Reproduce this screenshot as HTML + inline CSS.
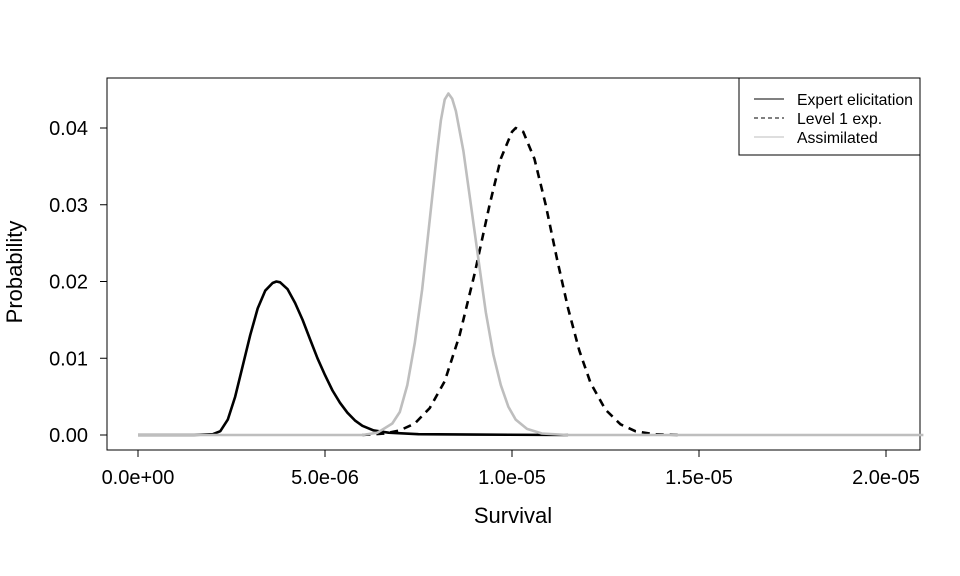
<!DOCTYPE html>
<html><head><meta charset="utf-8"><style>
body{margin:0;background:#fff}
svg{display:block;font-family:"Liberation Sans",Arial,sans-serif}
</style></head><body>
<svg id="chart" width="960" height="576" viewBox="0 0 960 576">
<rect x="107" y="78" width="813" height="372" fill="none" stroke="#000" stroke-width="1"/>
<g id="axes"></g>
<g id="series"></g>
<text x="513" y="523" font-size="22" text-anchor="middle">Survival</text>
<text transform="translate(22,272) rotate(-90)" font-size="22" text-anchor="middle">Probability</text>
<g>
<rect x="739" y="78" width="181" height="77" fill="#fff" stroke="#000" stroke-width="1"/>
<line x1="754" y1="99" x2="784" y2="99" stroke="#000" stroke-width="1"/>
<text x="797" y="105" font-size="15.8">Expert elicitation</text>
<line x1="754" y1="118" x2="784" y2="118" stroke="#000" stroke-width="1" stroke-dasharray="4,3"/>
<text x="797" y="124" font-size="15.8">Level 1 exp.</text>
<line x1="754" y1="137" x2="784" y2="137" stroke="#bebebe" stroke-width="1"/>
<text x="797" y="143" font-size="15.8">Assimilated</text>
</g>
</svg>
<script>
const xTicks=[0,5e-6,1e-5,1.5e-5,2e-5];
const xTickLabels=["0.0e+00","5.0e-06","1.0e-05","1.5e-05","2.0e-05"];
const yTicks=[0,0.01,0.02,0.03,0.04];
const yTickLabels=["0.00","0.01","0.02","0.03","0.04"];
const expertX=[0,1.5,2.0,2.2,2.4,2.6,2.8,3.0,3.2,3.4,3.6,3.7,3.8,4.0,4.2,4.4,4.6,4.8,5.0,5.2,5.4,5.6,5.8,6.0,6.3,6.7,7.5,9,11.5];
const expertY=[0,0,0.0001,0.0005,0.002,0.005,0.009,0.013,0.0165,0.0188,0.0198,0.0200,0.0199,0.019,0.0172,0.015,0.0125,0.0100,0.0078,0.0058,0.0042,0.0029,0.0019,0.0012,0.0006,0.0003,0.0001,0.00005,0];
const level1X=[6.0,6.6,7.0,7.4,7.8,8.2,8.6,9.0,9.4,9.7,10.0,10.1,10.3,10.6,10.9,11.2,11.5,11.8,12.1,12.5,12.9,13.3,13.8,14.5];
const level1Y=[0,0.0002,0.0006,0.0015,0.0035,0.007,0.013,0.021,0.030,0.036,0.0395,0.040,0.0395,0.036,0.030,0.023,0.0165,0.011,0.0068,0.0033,0.0014,0.0005,0.0001,0];
const assimX=[0,6.0,6.4,6.8,7.0,7.2,7.4,7.6,7.8,8.0,8.1,8.2,8.3,8.4,8.5,8.7,8.9,9.1,9.3,9.5,9.7,9.9,10.1,10.4,10.8,11.5,21];
const assimY=[0,0,0.0003,0.0015,0.003,0.0065,0.012,0.019,0.028,0.037,0.041,0.0437,0.0445,0.0438,0.0422,0.037,0.030,0.023,0.016,0.0105,0.0065,0.0037,0.002,0.0008,0.0002,0,0];

const NS="http://www.w3.org/2000/svg";
const xs=v=>138+v*(748/2e-5);
const ys=v=>435-v*7675;
const axes=document.getElementById('axes');
const series=document.getElementById('series');
function mk(tag,attrs,parent){const e=document.createElementNS(NS,tag);for(const k in attrs)e.setAttribute(k,attrs[k]);parent.appendChild(e);return e;}
mk('line',{x1:xs(0),y1:450,x2:xs(2e-5),y2:450,stroke:'#000'},axes);
xTicks.forEach((t,i)=>{
  const l=mk('line',{x1:xs(t),y1:450,x2:xs(t),y2:457,stroke:'#000'},axes);
  
  
  const tx=mk('text',{x:xs(t),y:484,'font-size':20,'text-anchor':'middle'},axes);
  tx.textContent=xTickLabels[i];
  
  
});
mk('line',{x1:107,y1:ys(0),x2:107,y2:ys(0.04),stroke:'#000'},axes);
yTicks.forEach((t,i)=>{
  const l=mk('line',{x1:100,y1:ys(t),x2:107,y2:ys(t),stroke:'#000'},axes);
  
  
  const tx=mk('text',{x:88,y:ys(t)+7,'font-size':20,'text-anchor':'end'},axes);
  tx.textContent=yTickLabels[i];
  
  
});
function draw(X,Y,stroke,dash,name){
  const d=X.map((x,i)=>(i?'L':'M')+xs(x*1e-6).toFixed(1)+','+ys(Y[i]).toFixed(1)).join('');
  const p=mk('path',{d:d,fill:'none',stroke:stroke,'stroke-width':2.6,'stroke-linejoin':'round'},series);
  if(dash)p.setAttribute('stroke-dasharray',dash);
  
  
}
draw(expertX,expertY,'#000',null,'expert-elicitation-line');
draw(level1X,level1Y,'#000','8,6','level1-exp-line');
draw(assimX,assimY,'#bebebe',null,'assimilated-line');
</script>
</body></html>
